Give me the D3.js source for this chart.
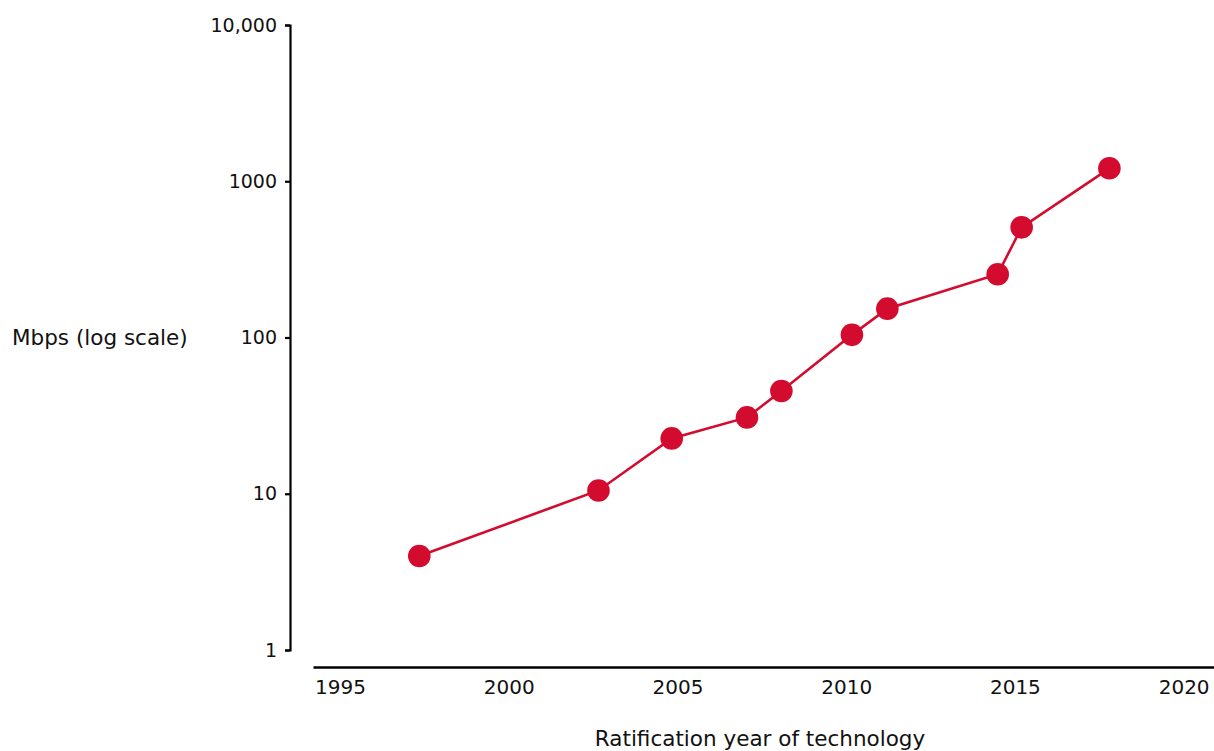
<!DOCTYPE html>
<html>
<head>
<meta charset="utf-8">
<script src="https://cdn.jsdelivr.net/npm/d3@7/dist/d3.min.js"></script>
<style>
  html, body { margin: 0; padding: 0; background: #fff; }
  svg { display: block; }
  text { font-family: "DejaVu Sans", "Noto Sans", sans-serif; fill: #111; }
</style>
</head>
<body>
<svg id="chart" width="1214" height="751"></svg>
<script>
// Wi-Fi generations: ratification year and peak throughput (Mbps)
const years = [1997.35, 2002.66, 2004.83, 2007.06, 2008.08, 2010.17, 2011.22, 2014.49, 2015.20, 2017.80];
const mbps  = [4.0, 10.5, 22.6, 30.8, 45.5, 104, 153, 254, 507, 1210];

const yTicks = [1, 10, 100, 1000, 10000];
const yTickLabels = ["1", "10", "100", "1000", "10,000"];
const xTicks = [1995, 2000, 2005, 2010, 2015, 2020];

const svg = d3.select("#chart");
const lineColor = "#d20b2f";

const x = d3.scaleLinear().domain([1994.2, 2020.9]).range([313, 1214]);
const y = d3.scaleLog().domain([1, 10000]).range([650, 25]);

// y axis
const yAxis = d3.axisLeft(y)
  .tickValues(yTicks)
  .tickFormat((d, i) => yTickLabels[i])
  .tickSize(5)
  .tickPadding(8);

const gy = svg.append("g").attr("transform", "translate(290,0)").call(yAxis);
gy.select(".domain").attr("stroke", "#000").attr("stroke-width", 2.2);
gy.selectAll(".tick line").attr("stroke", "#000").attr("stroke-width", 2.2);
gy.selectAll(".tick text").style("font-size", "19px").attr("fill", "#111");

// x axis
const xAxis = d3.axisBottom(x)
  .tickValues(xTicks)
  .tickFormat(d3.format("d"))
  .tickSize(0)
  .tickPadding(13);

const gx = svg.append("g").attr("transform", "translate(0,667)").call(xAxis);
gx.select(".domain").attr("stroke", "#000").attr("stroke-width", 2.6);
gx.selectAll(".tick text").style("font-size", "20px").attr("fill", "#111");

// axis titles
svg.append("text")
  .attr("x", 12).attr("y", 339)
  .attr("dominant-baseline", "middle")
  .style("font-size", "21.5px")
  .text("Mbps (log scale)");

svg.append("text")
  .attr("x", 760).attr("y", 746)
  .attr("text-anchor", "middle")
  .style("font-size", "21.5px")
  .text("Ratification year of technology");

// series
const pts = years.map((yr, i) => ({ yr, v: mbps[i] }));

svg.append("path")
  .datum(pts)
  .attr("fill", "none")
  .attr("stroke", lineColor)
  .attr("stroke-width", 2.6)
  .attr("d", d3.line().x(d => x(d.yr)).y(d => y(d.v)));

svg.selectAll("circle.pt")
  .data(pts)
  .join("circle")
  .attr("class", "pt")
  .attr("cx", d => x(d.yr))
  .attr("cy", d => y(d.v))
  .attr("r", 11.3)
  .attr("fill", lineColor);
</script>
</body>
</html>
